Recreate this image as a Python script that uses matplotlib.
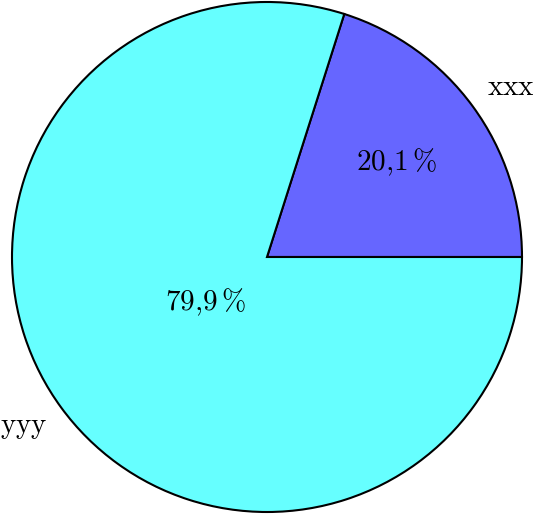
import matplotlib
matplotlib.use("Agg")
import matplotlib.pyplot as plt
import numpy as np

labels = ["xxx", "yyy"]
values = [20.1, 79.9]
colors = ["#6666ff", "#66ffff"]
pct_labels = [r"$20{,}1\,\%$", r"$79{,}9\,\%$"]
pct_dist = [0.63, 0.30]

plt.rcParams["mathtext.fontset"] = "cm"

fig = plt.figure(figsize=(5.33, 5.14), dpi=100)
ax = fig.add_axes([0, 0, 1, 1])
ax.axis("off")

wedges, _ = ax.pie(values, colors=colors, startangle=0, counterclock=True,
                   radius=1.0,
                   wedgeprops=dict(edgecolor="black", linewidth=1.5))
for w, lab, pl, d in zip(wedges, labels, pct_labels, pct_dist):
    mid = (w.theta1 + w.theta2) / 2
    ang = np.deg2rad(mid)
    ax.text(d * np.cos(ang), d * np.sin(ang), pl, ha="center", va="center", fontsize=21)
    la = np.deg2rad(mid - 1.3)
    ax.text(1.165 * np.cos(la), 1.165 * np.sin(la), r"$\mathrm{%s}$" % lab,
            ha="center", va="center", fontsize=21)

ax.set_xlim(-267 / 255, 266 / 255)
ax.set_ylim(-257 / 255, 257 / 255)
ax.set_aspect("auto")
fig.savefig("out.png", dpi=100)
